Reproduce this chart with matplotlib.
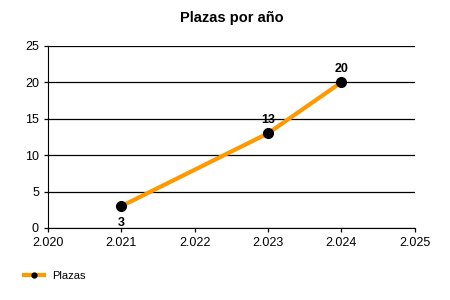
import matplotlib.pyplot as plt
from matplotlib.ticker import FuncFormatter

plt.rcParams['font.family'] = ['Liberation Sans', 'DejaVu Sans']

# data
years = [2021, 2023, 2024]
plazas = [3, 13, 20]

fig = plt.figure(figsize=(4.5, 3), dpi=100)
ax = fig.add_axes([0.1067, 0.24, 0.815, 0.607])

line, = ax.plot(years, plazas, color='#FF9900', linewidth=3, marker='o',
                markersize=7, markerfacecolor='black', markeredgecolor='black',
                label='Plazas', zorder=3)

# value labels
for x, y in zip(years, plazas):
    if y == min(plazas):
        ax.annotate(str(y), (x, y), xytext=(0, -8), textcoords='offset points',
                    ha='center', va='top', fontsize=9, fontweight='bold')
    else:
        ax.annotate(str(y), (x, y), xytext=(0, 5.5), textcoords='offset points',
                    ha='center', va='bottom', fontsize=9, fontweight='bold')

ax.set_xlim(2020, 2025)
ax.set_ylim(0, 25)
ax.set_xticks(range(2020, 2026))
ax.set_yticks(range(0, 26, 5))
ax.xaxis.set_major_formatter(FuncFormatter(lambda v, p: '{:,}'.format(int(v)).replace(',', '.')))
ax.grid(axis='y', color='black', linewidth=0.9)
ax.set_axisbelow(True)
for s in ['top', 'right']:
    ax.spines[s].set_visible(False)
ax.tick_params(labelsize=9, length=3, width=0.9)

ax.set_title('Plazas por año', fontsize=10.5, fontweight='bold', pad=17)

fig.legend(handles=[line], loc='lower left', bbox_to_anchor=(0.03, 0.03),
           frameon=False, fontsize=8, handlelength=1.8, markerscale=0.5)

plt.savefig('out.png', dpi=100)
